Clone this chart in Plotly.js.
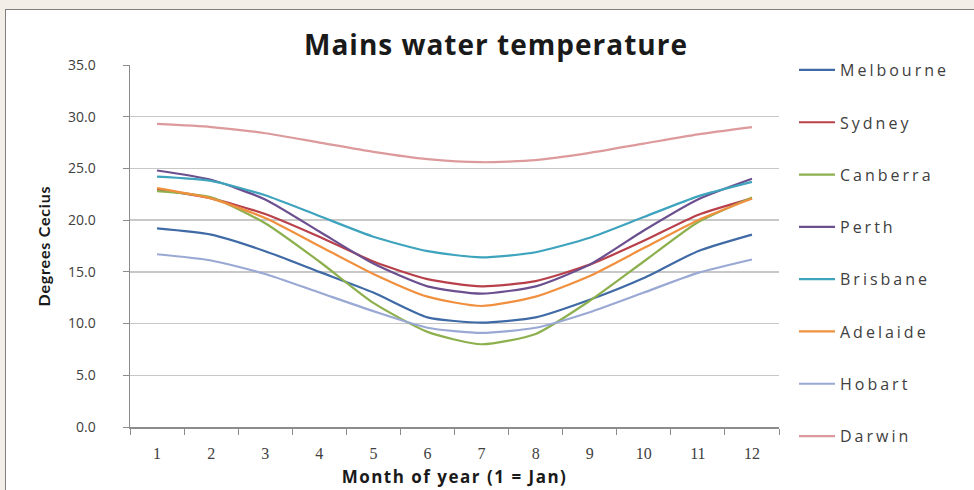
<!DOCTYPE html>
<html>
<head>
<meta charset="utf-8">
<script src="https://cdn.plot.ly/plotly-3.0.1.min.js"></script>
<style>
  html, body { margin:0; padding:0; width:974px; height:490px; overflow:hidden; background:#f3eee7; }
  #chart { position:absolute; left:5px; top:9px; width:980px; height:490px; border:1px solid #7f7f7f; background:#fff; }
  .legendtext { letter-spacing: 3px; }
  .gtitle { letter-spacing: 1px; }
  .xtitle { letter-spacing: 1.5px; }
  .ytitle { letter-spacing: 0.8px; }
</style>
</head>
<body>
<div id="chart"></div>
<script>
const months = ['1','2','3','4','5','6','7','8','9','10','11','12'];
const cities = ['Melbourne','Sydney','Canberra','Perth','Brisbane','Adelaide','Hobart','Darwin'];
const melbourne = [19.2, 18.6, 17.0, 15.0, 13.0, 10.6, 10.1, 10.6, 12.3, 14.4, 17.0, 18.6];
const sydney    = [23.0, 22.1, 20.6, 18.4, 16.0, 14.3, 13.6, 14.1, 15.7, 18.0, 20.5, 22.1];
const canberra  = [22.8, 22.2, 19.7, 16.0, 12.0,  9.2,  8.0,  9.0, 12.2, 16.0, 19.8, 22.2];
const perth     = [24.8, 23.9, 22.0, 18.9, 15.8, 13.6, 12.9, 13.6, 15.7, 19.0, 22.0, 24.0];
const brisbane  = [24.2, 23.8, 22.4, 20.4, 18.4, 17.0, 16.4, 16.9, 18.3, 20.3, 22.3, 23.7];
const adelaide  = [23.1, 22.1, 20.2, 17.5, 14.8, 12.6, 11.7, 12.6, 14.6, 17.3, 20.0, 22.1];
const hobart    = [16.7, 16.1, 14.8, 13.0, 11.2,  9.6,  9.1,  9.6, 11.1, 13.0, 14.9, 16.2];
const darwin    = [29.3, 29.0, 28.4, 27.5, 26.6, 25.9, 25.6, 25.8, 26.5, 27.4, 28.3, 29.0];
const seriesValues = [melbourne, sydney, canberra, perth, brisbane, adelaide, hobart, darwin];
const colors = ['#3f6aa6','#b8404a','#8db04e','#6b4f8f','#3ea3bd','#f0903f','#9aa8d4','#dd9a9c'];

const traces = cities.map((c, i) => ({
  x: months, y: seriesValues[i], name: c, type: 'scatter', mode: 'lines',
  line: {color: colors[i], width: 2.2, shape: 'spline', smoothing: 0.6},
  legendgroup: 'g' + i
}));

const layout = {
  width: 980, height: 490,
  margin: {l: 124, r: 207, t: 55, b: 73},
  paper_bgcolor: '#ffffff', plot_bgcolor: '#ffffff',
  font: {family: 'Lato, "Liberation Sans", sans-serif', color: '#404040'},
  title: {text: '<b>Mains water temperature</b>', x: 0.5, xref: 'container', xanchor: 'center',
          y: 1 - 35/490, yref: 'container', yanchor: 'middle',
          font: {family: '"Open Sans", "Liberation Sans", sans-serif', size: 28, color: '#1a1a1a'}},
  xaxis: {
    type: 'category', range: [-0.5, 11.5], showgrid: false,
    showline: true, linecolor: '#8c8c8c', linewidth: 1.5,
    ticks: 'outside', tickson: 'boundaries', ticklen: 6, tickcolor: '#8c8c8c',
    tickfont: {family: '"Liberation Serif", serif', size: 16, color: '#404040'},
    ticklabelstandoff: 11,
    title: {text: '<b>Month of year (1 = Jan)</b>', standoff: 10,
            font: {family: '"Open Sans", sans-serif', size: 17, color: '#1a1a1a'}},
    zeroline: false, fixedrange: true
  },
  yaxis: {
    range: [0, 35], dtick: 5, tickformat: '.1f',
    showgrid: true, gridcolor: '#c8c8c8', gridwidth: 1.5,
    showline: true, linecolor: '#8c8c8c', linewidth: 1.5,
    ticks: 'outside', ticklen: 6, tickcolor: '#8c8c8c',
    tickfont: {family: '"Open Sans", sans-serif', size: 14, color: '#404040'},
    ticklabelstandoff: 24,
    title: {text: '<b>Degrees Cecius</b>', standoff: 13,
            font: {family: 'Lato, sans-serif', size: 16, color: '#1a1a1a'}},
    zeroline: false, fixedrange: true
  },
  showlegend: true,
  legend: {
    x: 1 + 15/649, xanchor: 'left', xref: 'paper', y: 1.033, yanchor: 'top',
    traceorder: 'grouped', tracegroupgap: 28.5, maxheight: 480,
    font: {family: '"Open Sans", sans-serif', size: 16, color: '#404040'},
    bgcolor: 'rgba(0,0,0,0)', itemwidth: 36
  }
};

Plotly.newPlot('chart', traces, layout, {displayModeBar: false, staticPlot: true});
</script>
</body>
</html>
